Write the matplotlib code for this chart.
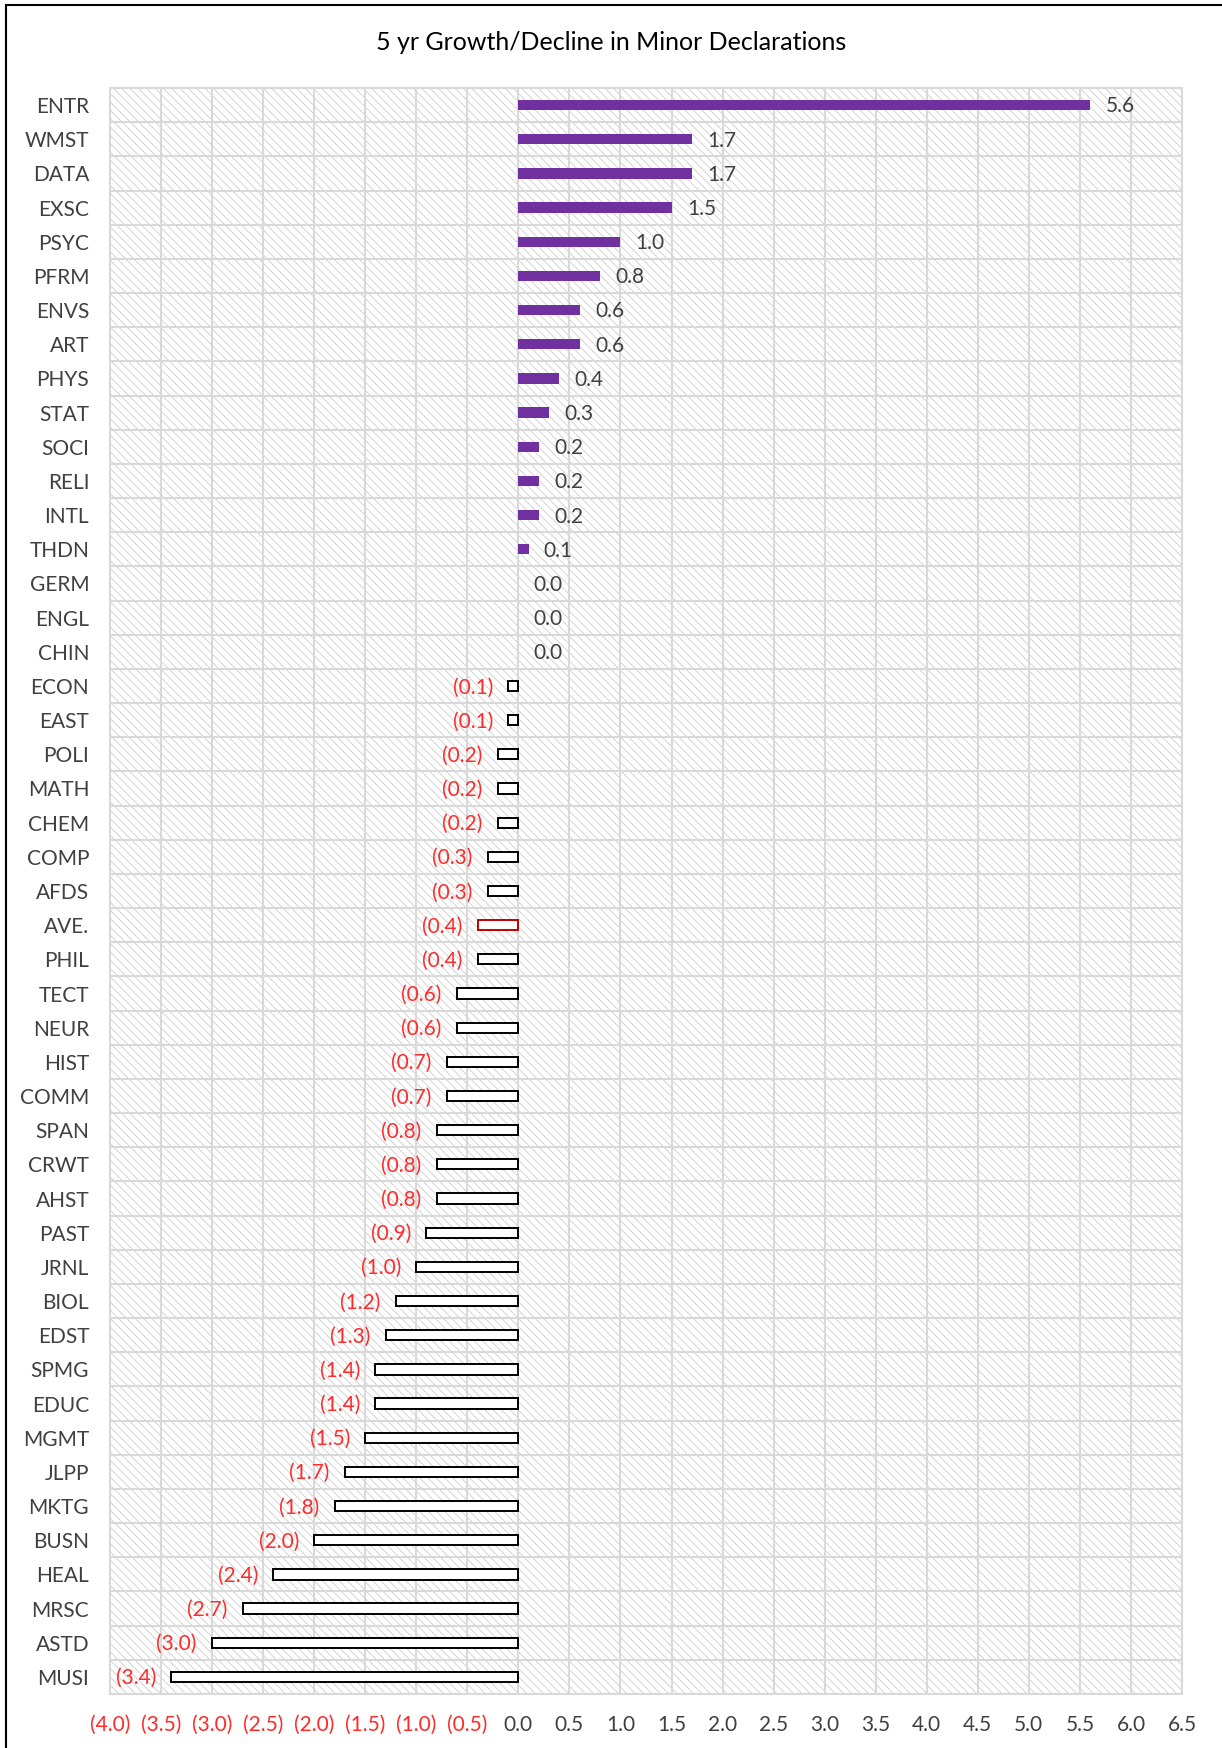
import matplotlib.pyplot as plt
import numpy as np
from matplotlib.lines import Line2D

# data (top to bottom)
majors = ["ENTR", "WMST", "DATA", "EXSC", "PSYC", "PFRM", "ENVS", "ART", "PHYS", "STAT",
          "SOCI", "RELI", "INTL", "THDN", "GERM", "ENGL", "CHIN", "ECON", "EAST", "POLI",
          "MATH", "CHEM", "COMP", "AFDS", "AVE.", "PHIL", "TECT", "NEUR", "HIST", "COMM",
          "SPAN", "CRWT", "AHST", "PAST", "JRNL", "BIOL", "EDST", "SPMG", "EDUC", "MGMT",
          "JLPP", "MKTG", "BUSN", "HEAL", "MRSC", "ASTD", "MUSI"]
growth = [5.6, 1.7, 1.7, 1.5, 1.0, 0.8, 0.6, 0.6, 0.4, 0.3,
          0.2, 0.2, 0.2, 0.1, 0.0, 0.0, 0.0, -0.1, -0.1, -0.2,
          -0.2, -0.2, -0.3, -0.3, -0.4, -0.4, -0.6, -0.6, -0.7, -0.7,
          -0.8, -0.8, -0.8, -0.9, -1.0, -1.2, -1.3, -1.4, -1.4, -1.5,
          -1.7, -1.8, -2.0, -2.4, -2.7, -3.0, -3.4]
xticks = np.arange(-4.0, 6.51, 0.5)

purple = "#7030A0"
red_text = "#FF2B2B"
dark_text = "#404040"
grid_col = "#d9d9d9"

plt.rcParams['font.family'] = ['Lato', 'DejaVu Sans']
plt.rcParams['hatch.linewidth'] = 0.6
plt.rcParams['hatch.color'] = '#cccccc'

fig = plt.figure(figsize=(12.22, 17.48), dpi=100)
ax = fig.add_axes([110/1222, 1 - 1694/1748, 1072/1222, 1606/1748])

# hatched plot area
ax.patch.set_facecolor('white')
ax.patch.set_hatch('\\\\\\\\')
ax.patch.set_edgecolor('#cccccc')

y = np.arange(len(majors))
for i, (name, v) in enumerate(zip(majors, growth)):
    if v > 0:
        ax.barh(i, v, height=0.3, color=purple, zorder=3)
    elif v < 0:
        edge = "#C00000" if name == "AVE." else "black"
        ax.barh(i, v, height=0.3, facecolor='white', edgecolor=edge, linewidth=1.4, zorder=3)
    if v >= 0:
        ax.annotate(f"{v:.1f}", (v, i), xytext=(11, -1), textcoords='offset points',
                    ha='left', va='center', fontsize=15, color=dark_text)
    else:
        ax.annotate(f"({abs(v):.1f})", (v, i), xytext=(-11, -1), textcoords='offset points',
                    ha='right', va='center', fontsize=15, color=red_text)

ax.set_xlim(-4.0, 6.5)
ax.set_ylim(len(majors) - 0.5, -0.5)

ax.set_xticks(xticks)
ax.set_xticklabels([f"({abs(t):.1f})" if t < 0 else f"{t:.1f}" for t in xticks])
for t, lab in zip(xticks, ax.get_xticklabels()):
    lab.set_color(red_text if t < 0 else dark_text)
ax.set_yticks(y)
ax.set_yticklabels(majors, color=dark_text)
ax.set_yticks(np.arange(-0.5, len(majors), 1), minor=True)
ax.tick_params(axis='both', which='both', length=0, labelsize=15)
ax.tick_params(axis='y', pad=15)
ax.tick_params(axis='x', pad=15)

ax.set_axisbelow(True)
ax.grid(axis='x', which='major', color=grid_col, linewidth=1.5, zorder=1)
ax.grid(axis='y', which='minor', color=grid_col, linewidth=1.5, zorder=1)
for s in ax.spines.values():
    s.set_color(grid_col)
    s.set_linewidth(1.5)

fig.text(0.5, 1 - 43/1748, "5 yr Growth/Decline in Minor Declarations",
         ha='center', va='center', fontsize=18, color='black')

# chart frame (top and left edges visible)
fig.add_artist(Line2D([6/1222, 1.0], [1 - 5/1748, 1 - 5/1748], color='black', linewidth=1.5))
fig.add_artist(Line2D([6/1222, 6/1222], [1 - 5/1748, 0.0], color='black', linewidth=1.5))

fig.savefig("out.png", dpi=100)
